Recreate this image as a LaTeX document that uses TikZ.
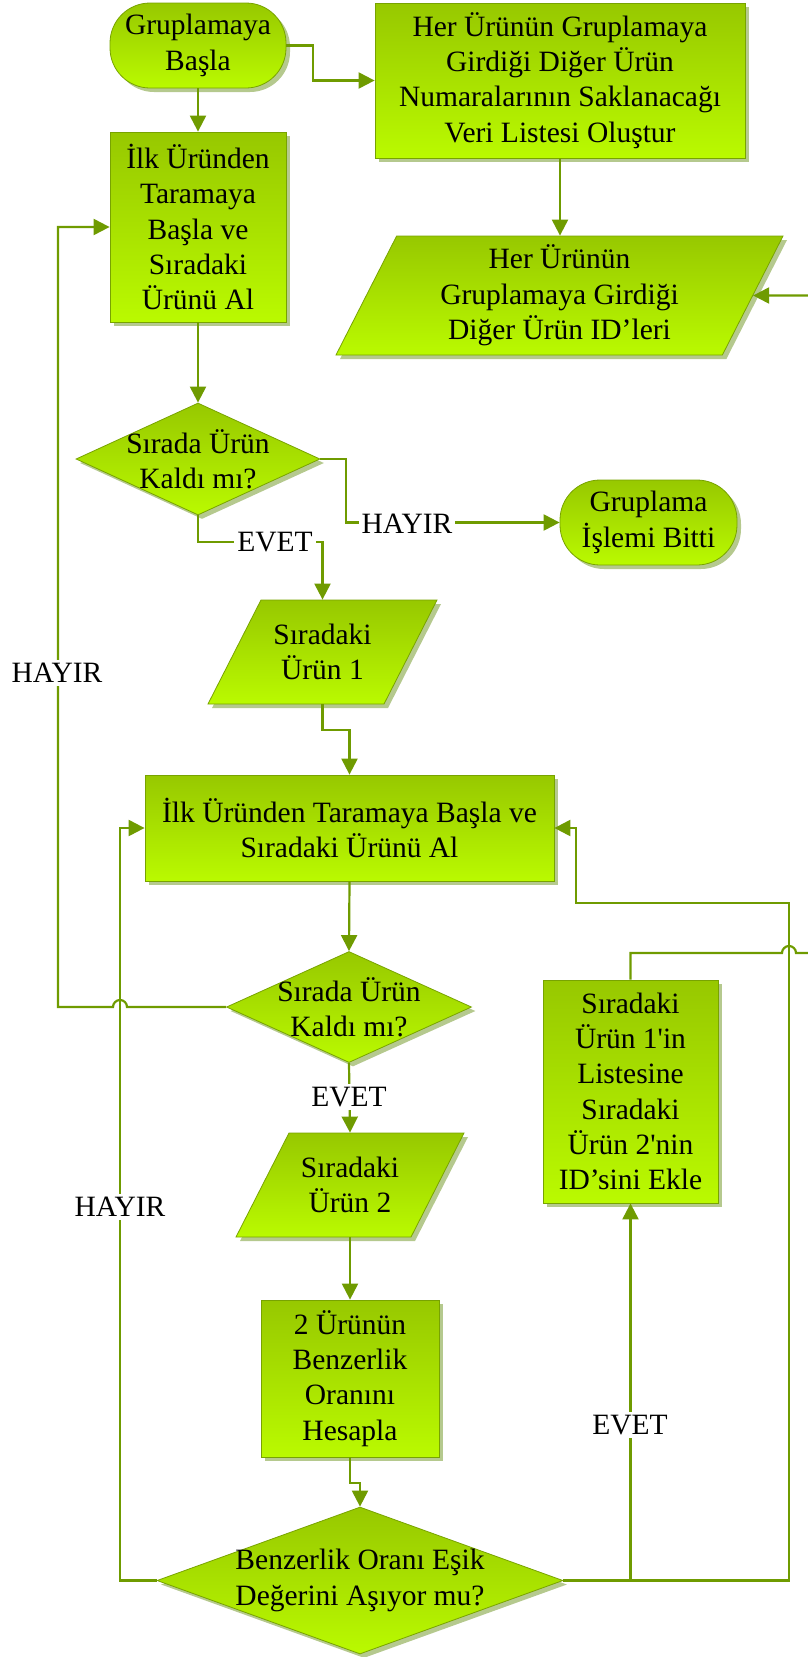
\documentclass[tikz,border=0pt]{standalone}
\usepackage{fontspec}
\setmainfont{Liberation Serif}
\usetikzlibrary{shapes.geometric,arrows.meta,shadows}

\definecolor{topgreen}{HTML}{97C800}
\definecolor{botgreen}{HTML}{BAFA00}
\definecolor{edgegreen}{HTML}{78A300}
\definecolor{linegreen}{HTML}{6F9B00}
\definecolor{shadegreen}{HTML}{B5C98E}

\begin{document}
\begin{tikzpicture}[x=1pt,y=1pt]

	\tikzstyle txt=[font=\fontsize{29.5}{35.3}\selectfont, align=center];
	\tikzstyle shape base=[draw=edgegreen, line width=0.8pt, top color=topgreen, bottom color=botgreen,
		drop shadow={shadow xshift=4pt, shadow yshift=-4pt, fill=shadegreen, opacity=1}, inner sep=2pt, txt];
	\tikzstyle process box=[shape base, rectangle];
	\tikzstyle terminal=[shape base, rectangle, rounded corners=40pt];
	\tikzstyle decision=[shape base, diamond, inner sep=0pt];
	\tikzstyle data=[shape base, trapezium, trapezium left angle=63, trapezium right angle=117,
		trapezium stretches body, inner xsep=0pt];
	\tikzstyle flow=[draw=linegreen, line width=2.2pt, -{Triangle[length=16pt,width=16pt]}];
	\tikzstyle answer=[txt, fill=white, inner sep=3pt];

	\useasboundingbox (0,0) rectangle (808,-1657);
	\clip (0,0) rectangle (808,-1657);

	\node[terminal, minimum width=176pt, minimum height=85pt] (basla) at (198,-45.5) {Gruplamaya\\Başla};
	\node[process box, minimum width=370pt, minimum height=155pt] (liste) at (560,-80.5)
		{Her Ürünün Gruplamaya\\Girdiği Diğer Ürün\\Numaralarının Saklanacağı\\Veri Listesi Oluştur};
	\node[process box, minimum width=176pt, minimum height=190pt] (tara1) at (198,-227)
		{İlk Üründen\\Taramaya\\Başla ve\\Sıradaki\\Ürünü Al};
	\node[data, inner ysep=59.5pt, minimum width=447pt,
		label={[txt]center:{Her Ürünün\\Gruplamaya Girdiği\\Diğer Ürün ID’leri}}] (idler) at (559.5,-295.5) {};
	\node[decision, minimum width=244pt, minimum height=112pt,
		label={[txt]center:{Sırada Ürün\\Kaldı mı?}}] (kaldi1) at (198,-459) {};
	\node[terminal, minimum width=177pt, minimum height=85pt] (bitti) at (648.5,-522.5) {Gruplama\\İşlemi Bitti};
	\node[data, inner ysep=52pt, minimum width=229pt,
		label={[txt]center:{Sıradaki\\Ürün 1}}] (urun1) at (322.5,-652) {};
	\node[process box, minimum width=409pt, minimum height=106pt] (tara2) at (349.5,-828)
		{İlk Üründen Taramaya Başla ve\\Sıradaki Ürünü Al};
	\node[decision, minimum width=245pt, minimum height=111pt,
		label={[txt]center:{Sırada Ürün\\Kaldı mı?}}] (kaldi2) at (349,-1007) {};
	\node[process box, minimum width=175pt, minimum height=223pt] (ekle) at (630.5,-1091.5)
		{Sıradaki\\Ürün 1\textquotesingle in\\Listesine\\Sıradaki\\Ürün 2\textquotesingle nin\\ID’sini Ekle};
	\node[data, inner ysep=52pt, minimum width=228pt,
		label={[txt]center:{Sıradaki\\Ürün 2}}] (urun2) at (350,-1185) {};
	\node[process box, minimum width=178pt, minimum height=157pt] (hesap) at (350,-1378.5)
		{2 Ürünün\\Benzerlik\\Oranını\\Hesapla};
	\node[decision, minimum width=406pt, minimum height=147pt,
		label={[txt]center:{Benzerlik Oranı Eşik\\Değerini Aşıyor mu?}}] (esik) at (360,-1580.5) {};

	\draw[flow] (basla.south) -- (tara1.north);
	\draw[flow] (basla.east) -- (313,-45.5) |- (liste.west);
	\draw[flow] (liste.south) -- (liste.south |- idler.north);
	\draw[flow] (tara1.south) -- (kaldi1.north);
	\draw[flow] (kaldi1.east) -- (346,-459) |- (bitti.west);
	\draw[flow] (kaldi1.south) -- (198,-542) -| (urun1.north);
	\draw[flow] (urun1.south) -- (322.5,-730) -| (tara2.north);
	\draw[flow] (tara2.south) -- (kaldi2.north);
	\draw[flow] (kaldi2.west) -- (127,-1007) arc[start angle=0, end angle=180, radius=7] -- (58,-1007) |- (tara1.west);
	\draw[flow] (kaldi2.south) -- (urun2.north);
	\draw[flow] (urun2.south) -- (hesap.north);
	\draw[flow] (hesap.south) -- (350,-1483) -| (esik.north);
	\draw[flow] (esik.west) -- (120,-1580.5) |- (tara2.west);
	\draw[flow] (esik.east) -| (ekle.south);
	\draw[flow] (esik.east) -- (789,-1580.5) -- (789,-903) -- (576,-903) |- (tara2.east);
	\draw[flow] (ekle.north) |- (782,-953) arc[start angle=180, end angle=0, radius=7] -- (812,-953) |- (idler.east);

	\foreach \name/\x/\y/\word in {h1/407/524/HAYIR,e1/275/542/EVET,h2/57/673/HAYIR,e2/349/1097/EVET,h3/120/1207/HAYIR,e3/630/1425/EVET}
		\node[answer] (\name) at (\x,-\y) {\word};

\end{tikzpicture}
\end{document}
